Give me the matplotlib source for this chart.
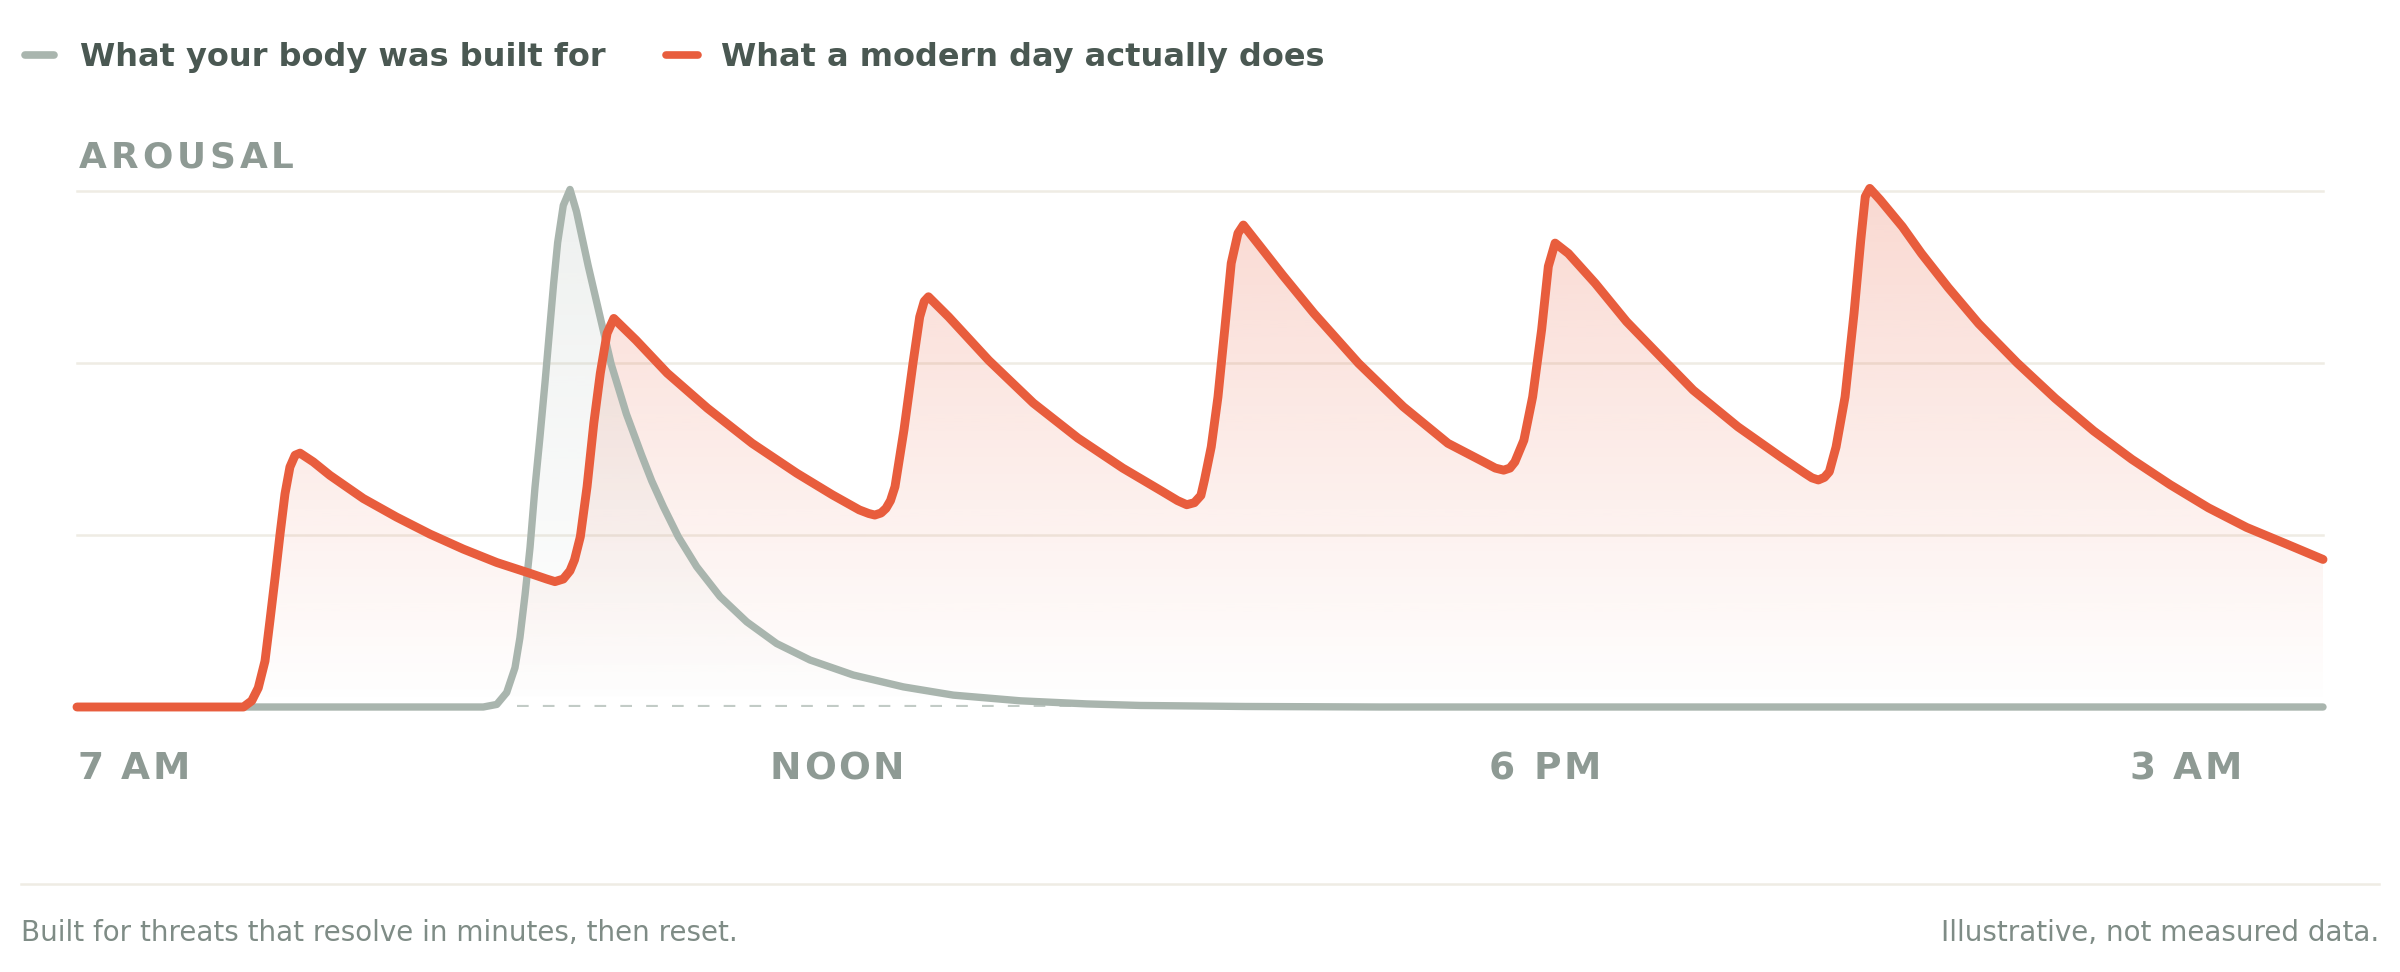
import numpy as np
import matplotlib
matplotlib.use('Agg')
import matplotlib.pyplot as plt
import matplotlib.colors as mcolors
from matplotlib.lines import Line2D

# position along the day (0 = 7 AM, 100 = right edge) / arousal (0..100)
body_x = [0, 18.09, 18.69, 19.13, 19.50, 19.72, 19.95, 20.17, 20.39, 20.61, 20.84, 21.06,
          21.22, 21.40, 21.65, 21.95, 22.24, 22.76, 23.27, 23.78, 24.46, 25.14, 25.59,
          26.11, 26.77, 27.59, 28.63, 29.82, 31.15, 32.64, 34.56, 36.79, 39.02, 42.0,
          44.96, 47.33, 52.0, 58.0, 100]
body_y = [0, 0, 0.5, 2.8, 7.6, 13.4, 21.8, 30.9, 42.5, 52.2, 63.0, 74.0,
          82.0, 90.0, 97.2, 100.3, 96.0, 85.5, 76.0, 66.5, 56.8, 48.8, 43.8,
          38.8, 33.0, 27.2, 21.4, 16.5, 12.3, 9.1, 6.2, 3.9, 2.3, 1.2,
          0.6, 0.3, 0.1, 0, 0]

modern_x = [0, 7.41, 7.78, 8.07, 8.37, 8.59, 8.82, 9.04, 9.26, 9.48, 9.71, 9.93,
            10.52, 11.26, 12.75, 14.23, 15.72, 17.20, 18.69, 20.17, 20.91, 21.28, 21.65,
            21.95, 22.15, 22.41, 22.71, 23.01, 23.30, 23.60, 23.90,
            24.89, 26.28, 28.07, 30.06, 32.05, 33.64, 34.83, 35.25, 35.52, 35.80, 36.02,
            36.22, 36.42, 36.82, 37.22, 37.52, 37.72, 37.91,
            38.81, 40.59, 42.58, 44.57, 46.56, 48.35, 49.00, 49.41, 49.75, 50.04, 50.20,
            50.50, 50.80, 51.10, 51.39, 51.69, 51.93,
            52.69, 53.68, 55.07, 57.06, 59.05, 61.04, 62.63, 63.15, 63.52, 63.80, 64.02,
            64.42, 64.81, 65.21, 65.51, 65.81,
            66.40, 67.60, 68.99, 70.57, 71.96, 73.95, 75.94, 76.93, 77.25, 77.53, 77.80,
            78.02, 78.32, 78.72, 79.12, 79.42, 79.62, 79.82,
            80.28, 81.27, 82.12, 83.31, 84.67, 86.38, 88.08, 89.79, 91.49, 93.19, 94.90,
            96.60, 98.31, 100.0]
modern_y = [0, 0, 1.2, 3.7, 8.9, 16.7, 25.1, 33.5, 41.3, 46.5, 48.8, 49.2,
            47.5, 44.9, 40.4, 36.8, 33.5, 30.6, 28.0, 25.9, 24.8, 24.3, 24.8,
            26.4, 28.5, 33.0, 42.7, 55.0, 64.7, 72.4, 75.3,
            71.1, 64.7, 57.9, 51.1, 45.3, 41.1, 38.2, 37.5, 37.2, 37.6, 38.5,
            40.0, 42.7, 53.7, 66.6, 75.6, 78.6, 79.5,
            75.6, 67.2, 58.9, 52.1, 46.3, 41.7, 40.0, 39.2, 39.6, 41.0, 44.0,
            50.4, 60.1, 73.1, 86.0, 91.8, 93.4,
            89.2, 83.7, 76.3, 66.6, 58.2, 51.1, 47.5, 46.3, 45.9, 46.3, 47.5,
            51.7, 60.1, 73.1, 85.4, 89.9,
            87.9, 82.1, 74.7, 67.6, 61.4, 54.3, 48.2, 45.3, 44.4, 44.0, 44.5,
            45.6, 50.4, 60.1, 76.3, 90.5, 98.9, 100.5,
            98.3, 93.1, 87.9, 81.3, 74.3, 66.7, 59.8, 53.5, 48.0, 43.1, 38.6,
            34.8, 31.7, 28.6]

grid_y = [33.33, 66.67, 100]
tick_x = [0, 30.85, 62.87, 91.36]
tick_labels = ['7 AM', 'NOON', '6 PM', '3 AM']
legend_labels = ['What your body was built for', 'What a modern day actually does']

GRAY = '#A9B5AE'
ORANGE = '#E85D3D'
GRID = '#EFECE4'
DARK = '#4A5852'
MUTED = '#8E9A94'

W, H = 2400, 972
fig = plt.figure(figsize=(24, 9.72), dpi=100)
renderer = fig.canvas.get_renderer()


def fx(px):
    return px / W


def fy(py):
    return 1 - py / H


ax = fig.add_axes([fx(77), fy(707), 2246 / W, 516 / H])
ax.axis('off')

for g in grid_y:
    ax.plot([0, 100], [g, g], color=GRID, lw=1.8, zorder=0, clip_on=False)


def grad_fill(x, y, color, a_top, a_bot, z):
    poly = ax.fill_between(x, y, 0, color='none', lw=0)
    arr = np.zeros((256, 1, 4))
    arr[..., :3] = mcolors.to_rgb(color)
    arr[:, 0, 3] = np.linspace(a_bot, a_top, 256)
    im = ax.imshow(arr, extent=[0, 100, 0, 102], origin='lower', aspect='auto',
                   interpolation='bilinear', zorder=z)
    im.set_clip_path(poly.get_paths()[0], transform=ax.transData)


grad_fill(modern_x, modern_y, ORANGE, 0.24, 0.0, 1)
grad_fill(body_x, body_y, GRAY, 0.2, 0.0, 1.5)

ax.plot([19.6, 100], [0, 0], color='#C2CBC6', lw=3.0, dashes=(2.8, 3.4),
        dash_capstyle='butt', zorder=2)
ax.plot(body_x, body_y, color=GRAY, lw=5.3, solid_capstyle='round',
        solid_joinstyle='round', zorder=3, clip_on=False)
ax.plot(modern_x, modern_y, color=ORANGE, lw=6.4, solid_capstyle='round',
        solid_joinstyle='round', zorder=4, clip_on=False)
ax.set_xlim(0, 100)
ax.set_ylim(0, 100)


def text_width(s, **kw):
    t = fig.text(0, 0, s, **kw)
    w = t.get_window_extent(renderer).width
    t.remove()
    return w


def spaced_text(x, y, s, spacing, **kw):
    for i, ch in enumerate(s):
        if ch == ' ':
            continue
        left = text_width(s[:i + 1], **kw) - text_width(ch, **kw) + i * spacing
        fig.text(fx(x + left), fy(y), ch, va='baseline', ha='left', **kw)


# legend
for (x0, x1, tx), col, lab in zip([(25, 54, 80), (666, 698, 721)], [GRAY, ORANGE], legend_labels):
    fig.add_artist(Line2D([fx(x0), fx(x1)], [fy(55), fy(55)], color=col, lw=5.5,
                          solid_capstyle='round'))
    fig.text(fx(tx), fy(66), lab, fontsize=23, fontweight='bold', color=DARK,
             va='baseline', ha='left')

spaced_text(79, 168, 'AROUSAL', 4.0, fontsize=25.8, fontweight='bold', color=MUTED)

for tx, lab in zip(tick_x, tick_labels):
    px = ax.transData.transform((tx, 0))[0]
    spaced_text(px, 779, lab, 2.5, fontsize=27, fontweight='bold', color=MUTED)

fig.add_artist(Line2D([fx(21), fx(2379)], [fy(884), fy(884)], color=GRID, lw=1.8))
fig.text(fx(21), fy(941), 'Built for threats that resolve in minutes, then reset.',
         fontsize=20, color='#7F8C86', va='baseline', ha='left')
fig.text(fx(2379), fy(941), 'Illustrative, not measured data.',
         fontsize=20, color='#7F8C86', va='baseline', ha='right')

fig.savefig('out.png', dpi=100, facecolor='white')
